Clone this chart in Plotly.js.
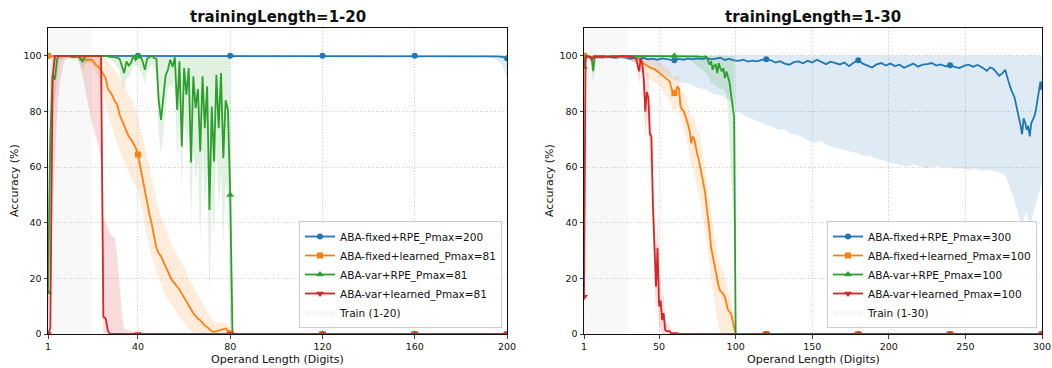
<!DOCTYPE html>
<html>
<head>
<meta charset="utf-8">
<script src="https://cdn.plot.ly/plotly-3.0.1.min.js"></script>
<style>html,body{margin:0;padding:0;background:#fff;}#chart{width:1052px;height:368px;}</style>
</head>
<body>
<div id="chart"></div>
<script>
// ---------------- LEFT: trainingLength=1-20 ----------------
const L_xTicks = [1, 40, 80, 120, 160, 200];
const L_markX = [1, 40, 80, 120, 160, 200];
const yTicks = [0, 20, 40, 60, 80, 100];
const L_train = [1, 20];

const L_blue_x = [1,10,20,30,40,50,60,70,80,90,100,110,120,130,140,150,160,170,180,190,194,196,198,199,200];
const L_blue_y = [100,100,100,100,100,100,100,100,100,100,100,100,100,100,100,100,100,100,100,100,99.9,99.8,99.6,99.4,99.1];
const L_blue_lo = [100,100,100,100,100,100,100,100,100,100,100,100,100,100,100,100,100,100,100,99.8,99.2,98.3,96.5,94.5,92];
const L_blue_hi = [100,100,100,100,100,100,100,100,100,100,100,100,100,100,100,100,100,100,100,100,100,100,100,100,100];

const L_orange_x = [1,2,4,6,8,10,12,14,16,18,20,21,22,23,24,25,26,27,28,29,30,31,32,33,34,35,36,37,38,39,40,41,42,43,44,45,46,47,48,49,50,51,52,53,54,55,56,57,58,59,60,61,62,63,64,65,66,67,68,69,70,71,72,73,74,75,76,77,78,79,80,81,82,100,120,140,160,180,200];
const L_orange_y = [100,100,100,99.8,100,99.7,99.5,99.6,99,98.5,98.6,97.5,96.5,96,94.6,93.2,92,88,87,85.5,83.6,82.5,79,77,75,73,71,70,68.6,67,64.5,60,56,51,47,43,39.5,35,31,29,28,26,24,22,20.6,19,18.2,17,16,14.5,13,12,10.5,9,7.5,6.5,5.5,5,4,3,2.5,1.8,1,0.8,1,1.4,1.5,1.8,2,1.2,0.2,0,0,0,0,0,0,0,0];
const L_orange_bx = [1,10,20,22,24,25,26,28,30,32,34,36,38,40,42,44,46,48,50,52,54,56,58,60,62,64,66,68,70,72,74,76,78,80,81];
const L_orange_lo = [99,99,97,94,90,86,82,76,71,66,62,58,55,51,44,35,28,22,18,14,11,9,6,4,2,0.5,0,0,0,0,0,0,0,0,0];
const L_orange_hi = [100,100,100,100,100,100,99,97,95,92,89,86,83,78,71,64,56,48,42,38,33,30,27,24,20,17,14,11,8,5,4,4,4,2,0];

const L_green_x = [1,2,3,4,5,6,8,10,12,14,16,17,18,20,22,24,26,28,30,32,33,34,35,36,37,38,39,40,41,42,43,44,45,46,47,48,49,50,51,52,53,54,55,56,57,58,59,60,61,62,63,64,65,66,67,68,69,70,71,72,73,74,75,76,77,78,79,80,81,82,100,120,140,160,180,200];
const L_green_y = [15,70,93,91.5,99,100,100,100,99.5,100,98,99.5,100,100,100,100,100,99.6,99.5,99,96,93.8,98,96.5,97.5,100,98.5,99.8,100,98,95,99,99.5,100,99.2,99,84,77,85,93,95,98.6,96,99.5,80.5,98,67.4,95.6,86,95.6,61.7,92.6,81.2,88,65.6,92.6,74,89,44.6,81.8,62,93.2,74,93.8,63.2,84,80.6,50,0,0,0,0,0,0,0,0];
const L_green_bx = [1,2,3,4,5,6,8,10,14,16,18,20,24,28,30,32,33,34,35,36,37,38,40,42,43,44,46,47,48,49,50,51,52,53,54,55,56,57,58,59,60,61,62,63,64,65,66,67,68,69,70,71,72,73,74,75,76,77,78,79,80,81];
const L_green_lo = [0,30,80,84,92,98,99,100,99,95,98,99.5,99.5,99,97,95,90,88,92,92,94,97,96,93,90,94,97,96,92,72,65,72,82,88,90,88,92,62,80,52,82,66,76,40,68,55,62,33,66,45,58,14,48,35,70,45,58,32,55,50,0,0];
const L_green_hi = [40,95,100,100,100,100,100,100,100,100,100,100,100,100,100,100,100,100,100,100,100,100,100,100,100,100,100,100,100,100,100,100,100,100,100,100,100,100,100,100,100,100,100,100,100,100,100,100,100,100,100,100,100,100,100,100,100,100,100,100,100,0];

const L_red_x = [1,2,3,4,6,10,15,20,22,24,25,26,27,28,30,40,80,120,160,200];
const L_red_y = [0,2,92,100,100,100,100,100,100,100,6.2,5.6,1,0,0,0,0,0,0,0];
const L_red_bx = [1,2,3,4,5,6,8,10,12,14,16,18,19,20,22,23,24,25,26,27,28,29,30,31,32,33,34,40];
const L_red_lo = [0,20,45,62,80,90,98,100,100,99,93,84,80,76,70,67,62,0,0,0,0,0,0,0,0,0,0,0];
const L_red_hi = [3,60,100,100,100,100,100,100,100,100,100,100,100,100,100,100,100,42,40,38,36,35,35,28,18,8,2,0];

const L_names = ['ABA-fixed+RPE_Pmax=200','ABA-fixed+learned_Pmax=81','ABA-var+RPE_Pmax=81','ABA-var+learned_Pmax=81','Train (1-20)'];

// ---------------- RIGHT: trainingLength=1-30 ----------------
const R_xTicks = [1, 50, 100, 150, 200, 250, 300];
const R_markX = [1, 60, 120, 180, 240, 300];
const R_train = [1, 30];

const R_blue_x = [1,4,7,10,13,16,19,22,25,28,31,34,37,40,43,46,49,52,55,58,60,
  63,66,69,72,75,78,81,84,87,90,93,96,99,102,105,108,111,114,117,120,123,126,129,132,135,138,141,144,147,150,153,156,159,162,165,168,171,174,177,180,183,186,189,192,195,198,201,204,207,210,213,216,219,222,225,228,231,234,237,240,243,246,249,252,255,258,261,264,
  266,268,270,272,274,276,278,280,282,284,285,286,287,288,289,290,291,292,293,294,295,296,297,298,299,300];
const R_blue_y = [100,99.6,99.3,99.6,99.4,99.7,99.5,99.3,99.6,99.4,98.9,99.3,99.0,99.2,98.7,99.0,98.6,99.1,98.8,98.5,98.4,
  98.9,98.6,99.0,98.7,99.1,98.8,99.2,98.7,99.0,99.3,98.5,98.9,98.4,98.2,98.6,97.9,98.3,98.0,98.5,98.8,98.4,97.6,98.1,97.2,96.8,97.7,98.0,97.3,98.2,97.6,98.6,97.8,97.0,97.9,97.4,96.9,97.6,96.3,97.5,98.4,97.2,96.4,95.8,96.9,97.4,96.5,97.2,96.3,96.8,95.7,96.6,97.2,96.1,96.8,97.0,97.4,96.5,96.9,96.2,96.6,96.0,95.6,96.4,96.8,96.1,96.7,95.8,94.6,
  95.8,95.4,94.2,92.8,93.6,95.0,91.0,87.6,85.2,80.5,78.2,75.0,71.8,77.5,76.0,73.4,74.8,71.0,75.8,77.0,78.2,80.5,84.0,88.0,90.8,88.8];
const R_blue_bx = [1,10,20,25,30,35,40,45,50,55,60,65,70,75,80,85,90,95,98,100,103,106,110,113,116,120,124,128,132,136,140,144,148,152,156,160,164,168,172,176,180,184,188,192,196,200,204,208,212,216,220,224,228,232,236,240,244,248,252,256,260,264,268,272,275,277,279,281,283,285,286,287,288,289,290,291,292,293,294,296,298,300];
const R_blue_lo = [99.5,99.3,99.2,99,98.6,98,97,95.5,93.8,92.6,91.5,90.3,90,88.6,88,86.4,85.8,84.3,83,80.2,79.5,78.4,77.5,76.9,76.2,75.2,74.6,73.2,73.6,72.0,71.6,70.8,69.4,68.9,69.5,67.8,67.2,66.8,66.0,65.4,65.0,63.8,64.2,62.9,62.6,61.8,61.2,60.6,60.2,61.0,60.4,59.6,60.1,60.4,59.8,59.9,59.4,59.6,58.9,59.5,58.7,59.1,58.6,58.2,57.4,55.8,52.4,49.5,46.4,42.5,40.0,38.6,41.0,43.0,44.0,41.5,38.6,41.0,43.5,47.6,51.0,55.0];
const R_blue_hi = R_blue_bx.map(() => 100);

const R_orange_x = [1,3,5,8,10,13,16,20,23,26,30,33,35,36,37,38,40,41,43,45,47,49,51,52,54,56,57,58,59,60,61,62,63,64,65,66,67,68,69,70,71,72,73,74,75,76,77,78,79,80,81,82,83,84,85,86,87,88,89,90,91,92,93,94,95,96,97,98,99,100,120,180,240,300];
const R_orange_y = [100,99.8,99.5,99.8,99.6,99.9,99.5,99.8,99.6,99.7,99.5,99.6,99.2,99,98.6,98,97.2,96.8,96.2,95.6,95.2,94.4,93.5,93,92,91.2,90.8,88.5,87,86.6,87.5,89,88.2,82,80.6,80.3,78.8,77,75,73,68.5,71,70,66.5,64.5,62.6,59.5,57,53,51,46,42.2,37,31,28,25.5,22,20,17,15.4,15,14.2,13.4,11,8.6,8,7.4,5,2.8,0,0,0,0,0];
const R_orange_bx = [1,30,35,38,41,45,49,52,54,57,58,60,62,63,64,65,66,68,70,71,72,73,74,76,78,79,81,82,84,85,86,88,90,92,93,94,95,96,97,98,99,100];
const R_orange_lo = [99,99,97.5,95,93,91,90,88,86,84,82,80,82,80,77,75,74,70,64,60,60,58,55,50,44,40,33,29,20,16,12,5,0,0,0,0,0,0,0,0,0,0];
const R_orange_hi = [100,100,100,100,99.5,99,98,97,96,95,93,92,93,93,88,87,87,85,80,77,79,78,75,72,67,63,56,52,43,39,36,30,25,22,20,18,15,14,13,10,6,0];

const R_green_x = [1,2,4,6,7,8,10,15,20,25,30,35,40,45,50,55,60,65,70,75,78,80,81,82,83,84,85,86,87,88,89,90,91,92,93,94,95,96,97,98,99,100,120,180,240,300];
const R_green_y = [96,100,99.8,99.5,94.5,99.5,100,99.8,100,99.8,100,100,100,100,100,100,100,100,100,99.8,99.6,99.8,99.6,98.5,96.8,98,95,96.5,96.8,93.8,97.4,95.5,94.4,95.6,92,94.4,92,90.4,86,82,78,0,0,0,0,0];
const R_green_bx = [1,2,5,7,9,20,40,60,70,75,78,80,82,84,86,88,90,92,94,95,96,97,98,99,100];
const R_green_lo = [88,98,99,90,99,99.5,99.5,99.5,99,96,95,94,93,90,90,89,88,88,86,82,66,58,50,40,0];
const R_green_hi = [100,100,100,100,100,100,100,100,100,100,100,100,100,100,100,100,100,100,100,100,100,100,100,100,25];

const R_red_x = [1,2,3,5,6,8,10,13,16,20,25,30,33,35,36,37,38,39,40,41,42,43,44,45,46,47,48,49,50,51,52,53,54,55,57,58,60,120,180,240,300];
const R_red_y = [13.4,99,100,99.5,98.6,100,99.5,99.8,99.6,99.5,100,99.8,99.5,99,96,94.4,99,97.4,92,80,87,85,72,71,46,33,17,31,10,12,5,7.5,1.4,1,1,0,0,0,0,0,0];
const R_red_bx = [1,2,3,10,30,35,37,38,39,40,41,42,43,44,45,46,47,48,49,50,51,52,53,54,55,56,57,58];
const R_red_lo = [0,90,99,99,99,97,90,95,92,85,70,78,75,62,58,36,22,6,14,2,3,0,0,0,0,0,0,0];
const R_red_hi = [30,100,100,100,100,100,99,100,100,97,90,95,93,84,82,58,46,30,42,20,22,12,15,5,4,3,2,0];

const R_names = ['ABA-fixed+RPE_Pmax=300','ABA-fixed+learned_Pmax=100','ABA-var+RPE_Pmax=100','ABA-var+learned_Pmax=100','Train (1-30)'];

// ---------------- styling ----------------
const FONT = 'DejaVu Sans';
const COLORS = ['#1f77b4', '#ff7f0e', '#2ca02c', '#d62728'];
const BANDS = ['rgba(31,119,180,0.15)', 'rgba(255,127,14,0.15)', 'rgba(44,160,44,0.15)', 'rgba(214,39,40,0.16)'];
const SYMBOLS = ['circle', 'square', 'triangle-up', 'triangle-down'];
const MSIZE = [6, 6, 7, 7];

function buildPanel(xa, ya, leg, train, series, names, markX) {
  const out = [];
  out.push({x: [train[0], train[1], train[1], train[0], train[0]], y: [0, 0, 110, 110, 0],
    fill: 'toself', fillcolor: 'rgba(128,128,128,0.06)', mode: 'lines', line: {width: 0},
    name: names[4], legend: leg, legendrank: 5, showlegend: true, hoverinfo: 'skip', xaxis: xa, yaxis: ya});
  series.forEach((s, i) => {
    out.push({x: s.bx.concat(s.bx.slice().reverse()), y: s.hi.concat(s.lo.slice().reverse()),
      fill: 'toself', fillcolor: BANDS[i], mode: 'lines', line: {width: 0},
      showlegend: false, hoverinfo: 'skip', xaxis: xa, yaxis: ya});
  });
  series.forEach((s, i) => {
    out.push({x: s.x, y: s.y, mode: 'lines', line: {color: COLORS[i], width: 1.8},
      showlegend: false, hoverinfo: 'skip', xaxis: xa, yaxis: ya});
    const mx = [], my = [];
    markX.forEach(v => { const k = s.x.indexOf(v); if (k >= 0) { mx.push(v, null); my.push(s.y[k], null); } });
    out.push({x: mx, y: my, mode: 'lines+markers', connectgaps: false,
      line: {color: COLORS[i], width: 1.8},
      marker: {symbol: SYMBOLS[i], size: MSIZE[i], color: COLORS[i], line: {width: 0}},
      name: names[i], legend: leg, legendrank: i + 1, showlegend: true, hoverinfo: 'skip', xaxis: xa, yaxis: ya});
  });
  return out;
}

const traces = [].concat(
  buildPanel('x', 'y', 'legend', L_train, [
    {x: L_blue_x, y: L_blue_y, bx: L_blue_x, lo: L_blue_lo, hi: L_blue_hi},
    {x: L_orange_x, y: L_orange_y, bx: L_orange_bx, lo: L_orange_lo, hi: L_orange_hi},
    {x: L_green_x, y: L_green_y, bx: L_green_bx, lo: L_green_lo, hi: L_green_hi},
    {x: L_red_x, y: L_red_y, bx: L_red_bx, lo: L_red_lo, hi: L_red_hi}
  ], L_names, L_markX),
  buildPanel('x2', 'y2', 'legend2', R_train, [
    {x: R_blue_x, y: R_blue_y, bx: R_blue_bx, lo: R_blue_lo, hi: R_blue_hi},
    {x: R_orange_x, y: R_orange_y, bx: R_orange_bx, lo: R_orange_lo, hi: R_orange_hi},
    {x: R_green_x, y: R_green_y, bx: R_green_bx, lo: R_green_lo, hi: R_green_hi},
    {x: R_red_x, y: R_red_y, bx: R_red_bx, lo: R_red_lo, hi: R_red_hi}
  ], R_names, R_markX)
);

const W = 1052, H = 368, T = 28, B = 34;
const PH = H - T - B;
const tickFont = {family: FONT, size: 9.5, color: '#111'};
const GRID = {showgrid: true, gridcolor: 'rgba(160,160,160,0.6)', gridwidth: 0.8, griddash: '1px,1.6px'};

function xAxis(dom, range, ticks, anchor) {
  return Object.assign({domain: dom, range: range, tickvals: ticks, anchor: anchor, zeroline: false,
    showline: true, mirror: true, linecolor: '#111', linewidth: 1,
    ticks: 'outside', ticklen: 3.5, tickwidth: 0.8, tickcolor: '#111', tickfont: tickFont, fixedrange: true}, GRID);
}
function yAxis(anchor) {
  return Object.assign({domain: [0, 1], range: [0, 110], tickvals: yTicks, anchor: anchor, zeroline: false,
    showline: true, mirror: true, linecolor: '#111', linewidth: 1,
    ticks: 'outside', ticklen: 3.5, tickwidth: 0.8, tickcolor: '#111', tickfont: tickFont, fixedrange: true}, GRID);
}

const Lx0 = 48, Lx1 = 507, Rx0 = 584, Rx1 = 1042;
const legendBase = {xref: 'paper', yref: 'paper', xanchor: 'right', yanchor: 'bottom',
  bgcolor: 'rgba(255,255,255,0.8)', bordercolor: '#cccccc', borderwidth: 1,
  font: {family: FONT, size: 10.5, color: '#111'}, tracegroupgap: 0, traceorder: 'normal'};

const titleFont = {family: FONT, size: 15, color: '#111', weight: 'bold'};
const labFont = {family: FONT, size: 11, color: '#111'};
const ann = [];
[[Lx0, Lx1, 'trainingLength=1-20', 14], [Rx0, Rx1, 'trainingLength=1-30', 549]].forEach(p => {
  const cx = (p[0] + p[1]) / 2 / W;
  ann.push({text: p[2], x: cx, y: 1 + (T - 17) / PH, xref: 'paper', yref: 'paper', showarrow: false,
    xanchor: 'center', yanchor: 'middle', font: titleFont});
  ann.push({text: 'Operand Length (Digits)', x: cx, y: (334 - 359) / PH, xref: 'paper', yref: 'paper', showarrow: false,
    xanchor: 'center', yanchor: 'middle', font: labFont});
  ann.push({text: 'Accuracy (%)', x: p[3] / W, y: 0.5, xref: 'paper', yref: 'paper', showarrow: false,
    textangle: -90, xanchor: 'center', yanchor: 'middle', font: labFont});
});

const layout = {
  width: W, height: H, margin: {l: 0, r: 0, t: T, b: B, pad: 0},
  paper_bgcolor: '#ffffff', plot_bgcolor: '#ffffff',
  font: {family: FONT, color: '#111'},
  hovermode: false, showlegend: true,
  xaxis: xAxis([Lx0 / W, Lx1 / W], [1, 200], L_xTicks, 'y'),
  yaxis: yAxis('x'),
  xaxis2: xAxis([Rx0 / W, Rx1 / W], [1, 300], R_xTicks, 'y2'),
  yaxis2: yAxis('x2'),
  legend: Object.assign({}, legendBase, {x: 502 / W, y: 6 / PH}),
  legend2: Object.assign({}, legendBase, {x: 1037 / W, y: 6 / PH}),
  annotations: ann
};

Plotly.newPlot('chart', traces, layout, {staticPlot: true, displayModeBar: false});
</script>
</body>
</html>
